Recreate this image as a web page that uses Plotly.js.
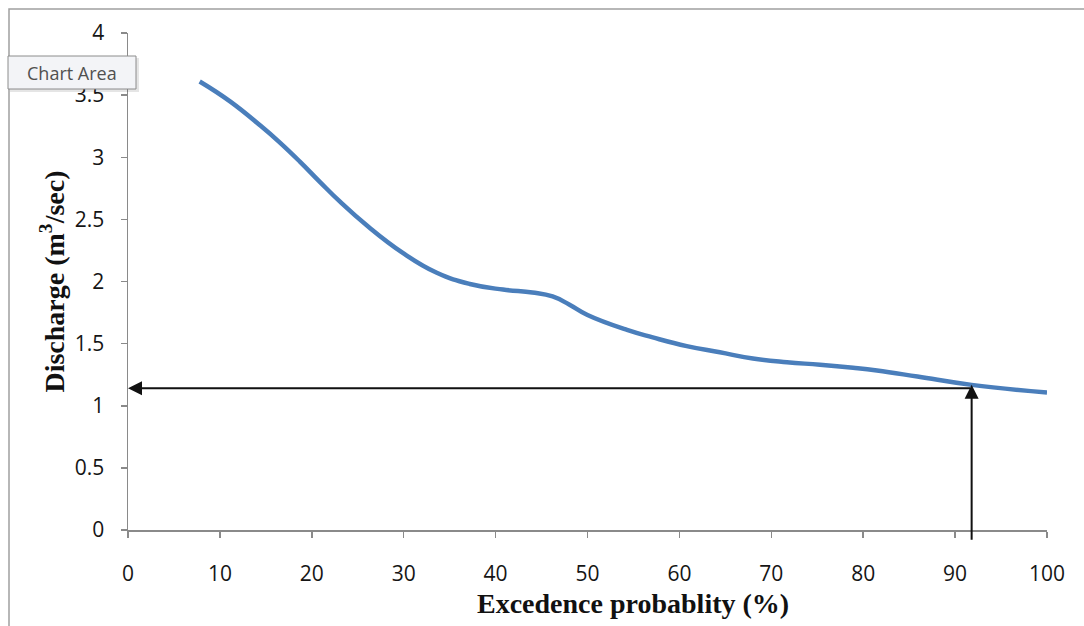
<!DOCTYPE html>
<html>
<head>
<meta charset="utf-8">
<script src="https://cdn.plot.ly/plotly-3.0.1.min.js"></script>
<style>
html,body{margin:0;padding:0;background:#fff;}
#chart{width:1084px;height:626px;}
</style>
</head>
<body>
<div id="chart"></div>
<script>
// Flow duration curve values
var probability = [7.8, 11.1, 14.4, 16.5, 18.7, 20.9, 23.1, 26.0, 29.9, 33.6, 37.2, 40.8, 44.0, 46.2, 48.0, 50.0, 54.3, 57.1, 60.8, 64.4, 68.0, 71.7, 75.3, 78.9, 81.5, 85.9, 91.8, 100];
var discharge   = [3.61, 3.45, 3.255, 3.12, 2.965, 2.80, 2.64, 2.45, 2.23, 2.07, 1.98, 1.935, 1.912, 1.88, 1.815, 1.73, 1.61, 1.55, 1.48, 1.43, 1.38, 1.35, 1.33, 1.305, 1.283, 1.235, 1.168, 1.107];
var xTicks = [0, 10, 20, 30, 40, 50, 60, 70, 80, 90, 100];
var yTicks = [0, 0.5, 1, 1.5, 2, 2.5, 3, 3.5, 4];
var design = {prob: 91.8, q: 1.14, qTip: 1.17, base: -0.09};

var W = 1084, H = 626, ml = 128, mr = 37, mt = 33, mb = 96;
var pw = W - ml - mr, ph = H - mt - mb;
function px(x){ return (x - ml) / pw; }
function py(y){ return (H - mb - y) / ph; }

var tickFont = {size: 21, color: '#151515', family: 'Open Sans, sans-serif'};
var titleFont = {family: 'Liberation Serif, Times New Roman, serif', size: 28, color: '#111', weight: 'bold'};

var trace = {
  x: probability, y: discharge, type: 'scatter', mode: 'lines',
  line: {color: '#4a7ebb', width: 4.5, shape: 'spline', smoothing: 1.3},
  hoverinfo: 'x+y', showlegend: false
};

var layout = {
  width: W, height: H,
  margin: {l: ml, r: mr, t: mt, b: mb},
  paper_bgcolor: '#ffffff', plot_bgcolor: '#ffffff',
  font: {family: 'Open Sans, sans-serif', color: '#222'},
  xaxis: {
    range: [0, 100], tickvals: xTicks, ticktext: xTicks.map(String),
    showgrid: false, zeroline: false, showline: true, linecolor: '#8a8a8a', linewidth: 1.5,
    ticks: 'outside', ticklen: 6, tickcolor: '#8a8a8a', tickwidth: 1.5,
    tickfont: tickFont, ticklabelstandoff: 18, fixedrange: true
  },
  yaxis: {
    range: [0, 4], tickvals: yTicks, ticktext: yTicks.map(String),
    showgrid: false, zeroline: false, showline: true, linecolor: '#8a8a8a', linewidth: 1.5,
    ticks: 'outside', ticklen: 6, tickcolor: '#8a8a8a', tickwidth: 1.5,
    tickfont: tickFont, ticklabelstandoff: 12, fixedrange: true,
    title: {text: 'Discharge (m<sup>3</sup>/sec)', standoff: 2, font: titleFont}
  },
  shapes: [
    {type: 'rect', xref: 'paper', yref: 'paper', x0: px(9), x1: px(1095), y0: py(640), y1: py(9),
     line: {color: '#a0a0a0', width: 1.5}, fillcolor: 'rgba(0,0,0,0)', layer: 'below'},
    {type: 'rect', xref: 'paper', yref: 'paper', x0: px(10), x1: px(139), y0: py(92), y1: py(58),
     line: {width: 0}, fillcolor: 'rgba(0,0,0,0.10)', layer: 'above'},
    {type: 'rect', xref: 'paper', yref: 'paper', x0: px(8), x1: px(136), y0: py(89), y1: py(56),
     line: {color: '#8c8c8c', width: 1}, fillcolor: '#f3f4f7', layer: 'above'}
  ],
  annotations: [
    {x: 0, y: design.q, xref: 'x', yref: 'y', ax: design.prob, ay: design.q, axref: 'x', ayref: 'y',
     showarrow: true, arrowhead: 2, arrowsize: 1.4, arrowwidth: 2, arrowcolor: '#111', text: ''},
    {x: design.prob, y: design.qTip, xref: 'x', yref: 'y', ax: design.prob, ay: design.base, axref: 'x', ayref: 'y',
     showarrow: true, arrowhead: 2, arrowsize: 1.4, arrowwidth: 2, arrowcolor: '#111', text: ''},
    {x: px(633), y: py(603), xref: 'paper', yref: 'paper', showarrow: false,
     text: '<b>Excedence probablity (%)</b>', xanchor: 'center', yanchor: 'middle',
     font: {family: 'Liberation Serif, Times New Roman, serif', size: 28, color: '#111'}},
    {x: px(72), y: py(72.5), xref: 'paper', yref: 'paper', showarrow: false,
     text: 'Chart Area', xanchor: 'center', yanchor: 'middle',
     font: {family: 'Open Sans, sans-serif', size: 18, color: '#505050'}}
  ]
};

Plotly.newPlot('chart', [trace], layout, {displayModeBar: false, staticPlot: true});
</script>
</body>
</html>
